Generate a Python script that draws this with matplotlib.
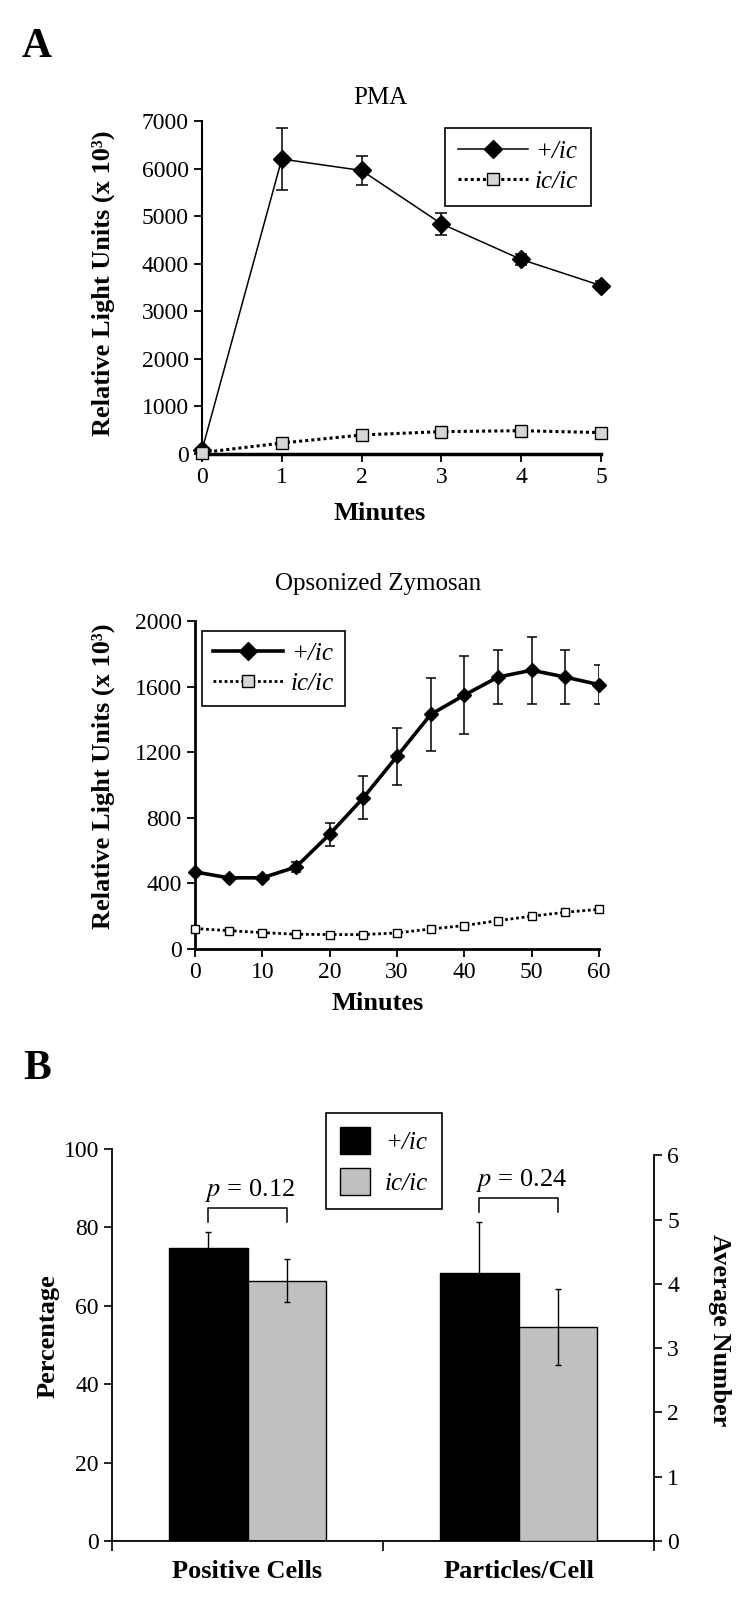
import numpy as np
import matplotlib.pyplot as plt
from matplotlib.patches import Patch

plt.rcParams['font.family'] = ['Liberation Serif', 'DejaVu Serif']
plt.rcParams['mathtext.fontset'] = 'stix'

# --- data ---
pma_minutes = [0, 1, 2, 3, 4, 5]
pma_het = [80, 6200, 5960, 4840, 4090, 3540]
pma_het_err = [60, 650, 310, 230, 120, 100]
pma_hom = [30, 230, 400, 470, 490, 450]

zym_minutes = [0, 5, 10, 15, 20, 25, 30, 35, 40, 45, 50, 55, 60]
zym_het = [470, 434, 434, 500, 700, 922, 1175, 1430, 1548, 1658, 1700, 1658, 1612]
zym_het_err = [12, 10, 10, 30, 70, 130, 175, 220, 240, 165, 205, 165, 120]
zym_hom = [125, 112, 100, 90, 88, 88, 98, 122, 143, 173, 200, 224, 242]

groups = ['Positive Cells', 'Particles/Cell']
pct_cells = [74.8, 66.4]          # Percentage (left axis)
pct_cells_err = [4.0, 5.5]
particles = [4.17, 3.33]          # Average number (right axis)
particles_err = [0.79, 0.59]
p_values = ['0.12', '0.24']

W, H = 750, 1611
fig = plt.figure(figsize=(W / 100, H / 100), dpi=100)


def frac(left, top, right, bottom):
    return [left / W, 1 - bottom / H, (right - left) / W, (bottom - top) / H]


TICK = 17
LAB = 19
leg_kw = dict(bbox_transform=fig.transFigure, loc='upper left', borderaxespad=0,
              frameon=True, fancybox=False, edgecolor='black', framealpha=1)

# ---------------- A: PMA ----------------
ax1 = fig.add_axes(frac(202, 121, 601, 454))
ax1.errorbar(pma_minutes, pma_het, yerr=pma_het_err, fmt='none', ecolor='black',
             elinewidth=1.1, capsize=4.5, capthick=1.1)
ax1.plot(pma_minutes, pma_het, color='black', lw=1.1, marker='D', ms=9,
         clip_on=False, label='+/ic', zorder=3)
ax1.plot(pma_minutes, pma_hom, color='black', lw=2.2, ls=(0, (1, 1)), marker='s', ms=9,
         mfc='#d6d6d6', mec='black', mew=1, clip_on=False, label='ic/ic', zorder=4)
ax1.set_xlim(0, 5)
ax1.set_ylim(0, 7000)
ax1.set_xticks(range(0, 6))
ax1.set_yticks(range(0, 7001, 1000))
ax1.spines[['top', 'right']].set_visible(False)
ax1.spines['left'].set_linewidth(1.5)
ax1.spines['bottom'].set_linewidth(2.5)
ax1.tick_params(labelsize=TICK, direction='out', length=6, width=1.3)
leg1 = ax1.legend(bbox_to_anchor=(445 / W, 1 - 128 / H), prop={'style': 'italic', 'size': 18},
                  handlelength=2.8, borderpad=0.5, labelspacing=0.3, handletextpad=0.3,
                  **leg_kw)
leg1.get_frame().set_linewidth(1.2)

fig.text(37 / W, 1 - 47 / H, 'A', fontsize=30, fontweight='bold', ha='center', va='center')
fig.text(380 / W, 1 - 98 / H, 'PMA', fontsize=18, ha='center', va='center')
fig.text(103 / W, 1 - 283 / H, 'Relative Light Units (x 10³)', fontsize=LAB,
         fontweight='bold', rotation=90, ha='center', va='center')
fig.text(380 / W, 1 - 514 / H, 'Minutes', fontsize=LAB, fontweight='bold',
         ha='center', va='center')

# ---------------- A: Opsonized Zymosan ----------------
ax2 = fig.add_axes(frac(195, 621, 599, 949))
ax2.errorbar(zym_minutes, zym_het, yerr=zym_het_err, fmt='none', ecolor='black',
             elinewidth=1.1, capsize=3.5, capthick=1.1)
ax2.plot(zym_minutes, zym_het, color='black', lw=2.6, marker='D', ms=7,
         clip_on=False, label='+/ic', zorder=3)
ax2.plot(zym_minutes, zym_hom, color='black', lw=2.0, ls=(0, (1, 1)), marker='s', ms=6,
         mfc='white', mec='black', mew=1, clip_on=False, label='ic/ic', zorder=4)
ax2.set_xlim(0, 60)
ax2.set_ylim(0, 2000)
ax2.set_xticks(range(0, 61, 10))
ax2.set_yticks(range(0, 2001, 400))
ax2.spines[['top', 'right']].set_visible(False)
ax2.spines['left'].set_linewidth(2)
ax2.spines['bottom'].set_linewidth(2)
ax2.tick_params(labelsize=TICK, direction='out', length=6, width=1.3)
leg2 = ax2.legend(bbox_to_anchor=(202 / W, 1 - 631 / H), prop={'style': 'italic', 'size': 18},
                  handlelength=2.8, borderpad=0.45, labelspacing=0.3, handletextpad=0.3,
                  **leg_kw)
# the legend handle square has a light fill in the original
leg2.get_lines()[1].set_markerfacecolor('#d6d6d6')
leg2.get_lines()[1].set_markersize(9)
leg2.get_lines()[0].set_markersize(9)
leg2.get_frame().set_linewidth(1.2)

fig.text(378 / W, 1 - 584 / H, 'Opsonized Zymosan', fontsize=18, ha='center', va='center')
fig.text(103 / W, 1 - 776 / H, 'Relative Light Units (x 10³)', fontsize=LAB,
         fontweight='bold', rotation=90, ha='center', va='center')
fig.text(378 / W, 1 - 1004 / H, 'Minutes', fontsize=LAB, fontweight='bold',
         ha='center', va='center')

# ---------------- B ----------------
axb = fig.add_axes(frac(112, 1149, 654, 1541))
axr = axb.twinx()
w = 0.29
off = w / 2
black, grey = 'black', '#c0c0c0'

axb.bar(0 - off, pct_cells[0], w, color=black, edgecolor='black', lw=1)
axb.bar(0 + off, pct_cells[1], w, color=grey, edgecolor='black', lw=1)
axb.errorbar([0 - off, 0 + off], pct_cells, yerr=pct_cells_err, fmt='none',
             ecolor='black', elinewidth=1, capsize=2.5)
axr.bar(1 - off, particles[0], w, color=black, edgecolor='black', lw=1)
axr.bar(1 + off, particles[1], w, color=grey, edgecolor='black', lw=1)
axr.errorbar([1 - off, 1 + off], particles, yerr=particles_err, fmt='none',
             ecolor='black', elinewidth=1, capsize=2.5)

axb.set_xlim(-0.5, 1.5)
axb.set_ylim(0, 100)
axr.set_ylim(0, 6.1)
axb.set_yticks(range(0, 101, 20))
axr.set_yticks(range(0, 7))
axr.spines['right'].set_bounds(0, 6)
axb.set_xticks([-0.5, 0.5, 1.5])
axb.set_xticklabels([])
axb.set_xticks([0, 1], minor=True)
axb.set_xticklabels(groups, minor=True, fontsize=LAB, fontweight='bold')
axb.tick_params(axis='x', which='minor', length=0, pad=14)
axb.tick_params(axis='x', which='major', length=7, width=1.2)
axb.tick_params(axis='y', labelsize=TICK, length=6, width=1.2)
axr.tick_params(axis='y', labelsize=TICK, length=6, width=1.2)
for a in (axb, axr):
    a.spines['top'].set_visible(False)
    for s in a.spines.values():
        s.set_linewidth(1.3)
axb.spines['right'].set_visible(False)
axr.spines['left'].set_visible(False)
axr.spines['bottom'].set_visible(False)

# significance brackets
brackets = [(0, 81.5, 84.9, 86.0), (1, 84.0, 87.4, 88.5)]
for (cx, y0, y1, ty), pv in zip(brackets, p_values):
    axb.plot([cx - off, cx - off, cx + off, cx + off], [y0, y1, y1, y0],
             color='black', lw=1.1, clip_on=False)
    axb.text(cx + 0.01, ty, '$p$ = ' + pv, fontsize=19, ha='center', va='bottom')

leg3 = axb.legend(handles=[Patch(facecolor=black, edgecolor='black', label='+/ic'),
                           Patch(facecolor=grey, edgecolor='black', label='ic/ic')],
                  bbox_to_anchor=(326 / W, 1 - 1113 / H), prop={'style': 'italic', 'size': 18},
                  handlelength=1.2, handleheight=1.3, borderpad=0.55, labelspacing=0.55,
                  handletextpad=0.6, **leg_kw)
leg3.get_frame().set_linewidth(1.2)

fig.text(37 / W, 1 - 1069 / H, 'B', fontsize=30, fontweight='bold', ha='center', va='center')
fig.text(48 / W, 1 - 1336 / H, 'Percentage', fontsize=LAB, fontweight='bold',
         rotation=90, ha='center', va='center')
fig.text(719 / W, 1 - 1330 / H, 'Average Number', fontsize=LAB, fontweight='bold',
         rotation=270, ha='center', va='center')

fig.savefig('out.png', dpi=100)
